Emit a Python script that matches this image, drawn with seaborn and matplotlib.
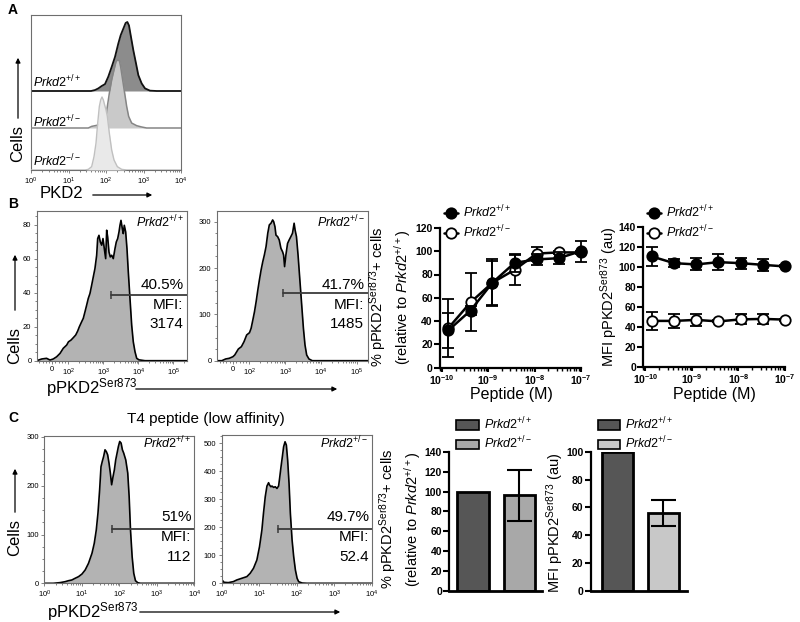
import numpy as np
import pandas as pd
import matplotlib
matplotlib.use("Agg")
import matplotlib.pyplot as plt
import seaborn as sns
from matplotlib.lines import Line2D
from matplotlib.patches import Patch, FancyArrowPatch
from matplotlib.ticker import FixedLocator, LogLocator, MultipleLocator, NullLocator

# ---------------- data ----------------
# Panel A: PKD2 histograms (intensity, % of mode)
a_wt_x = [40, 51, 62.5, 76.6, 94, 115, 142, 174, 213, 246, 290, 334, 371, 410, 465, 536, 631, 728, 893, 1096, 1489, 2244]
a_wt_y = [0, 1.4, 3.8, 7.2, 10, 20.7, 35, 49.5, 68.8, 80.8, 90.4, 98.6, 100, 95, 78, 59, 40, 23, 11, 3.8, 0.5, 0]
a_het_x = [33.8, 41.5, 51, 69.2, 88.5, 100, 108.6, 122.7, 141.6, 163.3, 184.9, 200.4, 227, 246, 278, 315, 356, 402, 483, 658, 893, 1213]
a_het_y = [0, 2.4, 3.4, 4.9, 8.3, 17, 31.7, 51, 70.7, 85.4, 97.6, 100, 99, 90, 70.7, 51, 31.7, 17, 7.3, 3.4, 1.5, 0]
a_ko_x = [27.5, 33.8, 41.5, 47.9, 54.1, 60, 66.4, 72.1, 78.2, 84.9, 92, 100, 108.6, 122.7, 141.6, 163.3, 200.4, 261.8, 355.6]
a_ko_y = [0, 0.9, 4.6, 18.3, 36.7, 64, 87, 96, 100, 96, 89, 82.6, 73.4, 50.5, 27.5, 13.8, 4.6, 0.9, 0]

# Panel B: pPKD2 Ser873 histograms
b1_x = [-96, -65, -35, -14, 6, 27, 48, 68, 89, 100, 118, 137, 161, 183, 204, 238, 265, 296, 331, 368,
        411, 460, 512, 571, 639, 683, 743, 811, 889, 968, 1055, 1156, 1234, 1318, 1436, 1565, 1714, 1905, 2131, 2323,
        2547, 2776, 2961, 3162, 3447, 3679, 3930, 4305, 4690, 5117, 5714, 6394, 7100, 7943, 8890, 10330, 15350, 240000]
b1_y = [0, 1.0, 1.4, 0.4, 1.0, 2.3, 4.3, 7.3, 9.2, 11.1, 12.1, 13.5, 15.1, 17.4, 19.9, 22.9, 24.9, 28.7, 32.7, 36.6,
        39.5, 44.4, 49.3, 54.2, 62, 71.8, 73.7, 69.8, 67.9, 71.8, 65.9, 60, 76.7, 72.7, 63.9, 61, 62, 60, 65.9, 69.8,
        71.8, 75.7, 79.6, 82.5, 77.7, 74.7, 79.6, 75.7, 65.9, 52.2, 36.6, 20.9, 11.1, 5.3, 1.4, 0.5, 0, 0]
b2_x = [-104, -67, -44, -22, 0, 11, 23, 33, 51, 67, 83, 100, 111, 124, 138, 153, 171, 189, 211, 235,
        260, 290, 324, 358, 399, 444, 474, 515, 549, 612, 678, 755, 841, 897, 957, 1040, 1158, 1283, 1430, 1592,
        1766, 1881, 2054, 2275, 2535, 2879, 3211, 3556, 3963, 4592, 5702, 210000]
b2_y = [0, 0, 3.7, 5.2, 8.6, 12.3, 19.4, 25.3, 30.2, 41, 55.5, 60.4, 69.9, 87.8, 105.8, 127, 152.6, 174, 195.8, 213.7,
        228, 246, 275, 293, 296.6, 303.7, 300, 289, 271, 267.6, 260.5, 242.6, 235, 228, 203, 228, 253, 260.5, 267.6, 275,
        296.6, 282, 267.6, 228, 178, 120, 70, 34, 12.3, 3.7, 0, 0]
b_gate_x = [1637, 875]
b_gate_y = [38.5, 145.5]
b_pct = ["40.5%", "41.7%"]
b_mfi = ["3174", "1485"]

# Panel C: T4 peptide histograms
c1_x = [1.0, 1.74, 2.64, 3.59, 4.4, 5.43, 6.65, 8.17, 10.1, 12.3, 15.1, 18.7, 21.5, 24.3, 27.0, 29.9, 32.5, 35.2, 38.2, 41.6,
        45.1, 48.9, 53.3, 57.7, 62.5, 68.2, 73.9, 80.2, 87.3, 94.6, 102.6, 111.7, 121, 131, 148.6, 168, 183, 199, 220, 243,
        270, 311, 368, 10000]
c1_y = [0, 0, 1.4, 3.3, 5.3, 6.8, 10.3, 13.6, 19, 27.3, 41, 61.6, 82, 109, 144, 191.6, 239, 250, 260, 273.7,
        270, 263.5, 246, 226, 202, 219, 232.6, 253, 267, 280.5, 290.8, 287.5, 273.7, 267, 253, 226, 178, 109, 54.6, 20.5,
        5.3, 1.2, 0, 0]
c2_x = [1.0, 1.06, 1.15, 1.5, 2.05, 2.52, 3.44, 4.68, 5.74, 7.04, 8.67, 10.2, 11.8, 13.0, 14.5, 16.1, 17.8, 18.9, 20.6, 21.9,
        24.2, 26.8, 29.8, 32.9, 35.0, 38.2, 41.4, 44.8, 48.9, 53.0, 57.4, 62.5, 67.8, 75.3, 83.2, 92.3, 102.5, 113, 140, 190,
        10000]
c2_y = [0, 9.5, 3.6, 2.4, 6, 11.9, 17.9, 23.8, 35.7, 53.6, 83.3, 131, 190.5, 250, 309.5, 347.6, 359.5, 351, 345, 347.6,
        342.8, 345, 339, 347.6, 375, 416.6, 452, 488, 505.8, 494, 440, 357, 250, 154.7, 95, 47.5, 17.9, 5.7, 1, 0,
        0]
c_gate_x = [64, 31]
c_gate_y = [111, 193]
c_pct = ["51%", "49.7%"]
c_mfi = ["112", "52.4"]

# Dose response (peptide, M)
conc = [1.37e-10, 4.12e-10, 1.23e-9, 3.7e-9, 1.11e-8, 3.33e-8, 1.0e-7]
pct_wt = [32, 49, 73, 90, 93, 94, 100]
pct_wt_err = [15, 4, 19, 8, 5, 5, 9]
pct_het = [34, 56, 73, 84, 98, 99, 99]
pct_het_err = [25, 25, 20, 13, 6, 1, 1]
mfi_wt = [110.7, 104, 102.7, 105, 104, 102.3, 100.7]
mfi_wt_err = [10, 4, 6, 8, 5.5, 6, 1]
mfi_het = [46, 46, 47, 45.5, 47.5, 48, 47.3]
mfi_het_err = [9, 7, 6, 1, 5, 5, 1]

# Bars (T4 peptide)
bar_geno = ["+/+", "+/-"]
bar_pct = [100, 96]
bar_pct_err = [0, 26]
bar_mfi = [100, 56]
bar_mfi_err = [0, 9]

WT = r"$\mathit{Prkd2^{+/+}}$"
HET = r"$\mathit{Prkd2^{+/-}}$"
KO = r"$\mathit{Prkd2^{-/-}}$"
PPKD2 = r"pPKD2$^{\mathrm{Ser873}}$"

# ---------------- style ----------------
sns.set_theme(style="ticks", rc={"axes.edgecolor": "black", "xtick.color": "black", "ytick.color": "black",
                                 "text.color": "black", "axes.labelcolor": "black"})
plt.rcParams["font.family"] = ["Liberation Sans", "DejaVu Sans"]
plt.rcParams["mathtext.fontset"] = "custom"
plt.rcParams["mathtext.rm"] = "Liberation Sans"
plt.rcParams["mathtext.sf"] = "Liberation Sans"
plt.rcParams["mathtext.it"] = "Liberation Sans:italic"
plt.rcParams["mathtext.bf"] = "Liberation Sans:bold"

W, H = 800, 622
fig = plt.figure(figsize=(8, 6.22), dpi=100)
fig.patch.set_facecolor("white")


def ax_px(l, t, r, b):
    return fig.add_axes([l / W, 1 - b / H, (r - l) / W, (b - t) / H])


def ftext(x, y, s, **kw):
    kw.setdefault("va", "center")
    fig.text(x / W, 1 - y / H, s, **kw)


def farrow(x0, y0, x1, y1):
    fig.add_artist(FancyArrowPatch((x0 / W, 1 - y0 / H), (x1 / W, 1 - y1 / H), transform=fig.transFigure,
                                   arrowstyle="-|>", mutation_scale=7, lw=0.9, color="black"))


def hist_style(ax):
    for s in ax.spines.values():
        s.set_color("#6e6e6e")
        s.set_linewidth(0.8)
    ax.tick_params(axis="both", which="both", direction="out", color="#6e6e6e", labelsize=5.5, pad=1.5, width=0.6)
    ax.tick_params(which="major", length=2.5)
    ax.tick_params(which="minor", length=1.5)
    ax.set_xlabel("")
    ax.set_ylabel("")


def draw_hist(ax, xs, ys, gx, gy, xmax, fill="#b3b3b3"):
    ax.fill_between(xs, 0, ys, color=fill, lw=0)
    sns.lineplot(x=xs, y=ys, ax=ax, color="black", lw=1.2, estimator=None, sort=False)
    ax.plot([gx, xmax], [gy, gy], color="#3a3a3a", lw=1.3)
    ax.plot([gx], [gy], marker="|", ms=6, mew=1.1, color="#3a3a3a")


# ---------------- Panel A ----------------
axA = ax_px(31, 15, 181, 170)
axA.set_xscale("log")
layers = [(a_wt_x, a_wt_y, 79, 69, "#8c8c8c", "#111111", 1.3),
          (a_het_x, a_het_y, 42, 68, "#c9c9c9", "#858585", 1.1),
          (a_ko_x, a_ko_y, 0, 73, "#e9e9e9", "#c0c0c0", 1.0)]
z = 1
for xs, hs, off, pk, fc, ec, lw in layers:
    xx = [1.0] + list(xs) + [1e4]
    yy = [off] + [off + h * pk / 100 for h in hs] + [off]
    axA.fill_between(xx, off, yy, color=fc, lw=0, zorder=z)
    sns.lineplot(x=xx, y=yy, ax=axA, color=ec, lw=lw, estimator=None, sort=False, zorder=z + 1)
    z += 2
axA.set_xlim(1, 1e4)
axA.set_ylim(0, 155)
axA.set_xticks([1, 10, 100, 1e3, 1e4], labels=[r"$10^{0}$", r"$10^{1}$", r"$10^{2}$", r"$10^{3}$", r"$10^{4}$"])
axA.xaxis.set_minor_locator(LogLocator(base=10, subs=np.arange(2, 10), numticks=20))
axA.yaxis.set_major_locator(NullLocator())
axA.yaxis.set_minor_locator(NullLocator())
hist_style(axA)
ftext(33, 82, WT, fontsize=9)
ftext(33, 122, HET, fontsize=9)
ftext(33, 161, KO, fontsize=9)
ftext(8, 10, "A", fontsize=10, fontweight="bold", ha="left")
ftext(18, 143, "Cells", fontsize=12, rotation=90, ha="center")
farrow(18, 121, 18, 55)
ftext(61, 194, "PKD2", fontsize=12, ha="center")
farrow(90, 195, 155, 195)

# ---------------- Panel B histograms ----------------
sym_minor = [-80, -60, -40, -20, 20, 40, 60, 80] + [k * 10.0 ** d for d in range(2, 6) for k in range(2, 10)]
b_boxes = [(37, 211, 187, 360.7), (217, 211, 368, 360.7)]
b_ylims = [88, 323]
b_yticks = [[0, 20, 40, 60, 80], [0, 100, 200, 300]]
b_xlims = [(-94, 2.43e5), (-96, 2.05e5)]
b_data = [(b1_x, b1_y), (b2_x, b2_y)]
b_geno = [WT, HET]
for i in range(2):
    l, t, r, b = b_boxes[i]
    ax = ax_px(l, t, r, b)
    ax.set_xscale("symlog", linthresh=100, linscale=0.417)
    draw_hist(ax, b_data[i][0], b_data[i][1], b_gate_x[i], b_gate_y[i], b_xlims[i][1])
    ax.set_xlim(*b_xlims[i])
    ax.set_ylim(0, b_ylims[i])
    ax.set_xticks([0, 1e2, 1e3, 1e4, 1e5], labels=["0", r"$10^{2}$", r"$10^{3}$", r"$10^{4}$", r"$10^{5}$"])
    ax.xaxis.set_minor_locator(FixedLocator(sym_minor))
    ax.set_yticks(b_yticks[i])
    ax.yaxis.set_minor_locator(MultipleLocator(b_yticks[i][1] / 4))
    hist_style(ax)
    ftext(r - 3, 222, b_geno[i], fontsize=9, ha="right")
    ftext(r - 3, 285, b_pct[i], fontsize=11, ha="right")
    ftext(r - 4, 305, "MFI:", fontsize=11, ha="right")
    ftext(r - 4, 324, b_mfi[i], fontsize=11, ha="right")

ftext(8, 204, "B", fontsize=10, fontweight="bold", ha="left")
ftext(15, 346, "Cells", fontsize=12, rotation=90, ha="center")
farrow(15, 313, 15, 252)
ftext(46, 388, PPKD2, fontsize=12, ha="left")
farrow(133, 389, 340, 389)

# ---------------- Panel C histograms ----------------
c_boxes = [(44.3, 436, 194.3, 583.3), (221.7, 435, 371.7, 583.3)]
c_ylims = [302, 530]
c_yticks = [[0, 100, 200, 300], [0, 100, 200, 300, 400, 500]]
c_data = [(c1_x, c1_y), (c2_x, c2_y)]
for i in range(2):
    l, t, r, b = c_boxes[i]
    ax = ax_px(l, t, r, b)
    ax.set_xscale("log")
    draw_hist(ax, c_data[i][0], c_data[i][1], c_gate_x[i], c_gate_y[i], 1e4)
    ax.set_xlim(1, 1e4)
    ax.set_ylim(0, c_ylims[i])
    ax.set_xticks([1, 10, 100, 1e3, 1e4], labels=[r"$10^{0}$", r"$10^{1}$", r"$10^{2}$", r"$10^{3}$", r"$10^{4}$"])
    ax.xaxis.set_minor_locator(LogLocator(base=10, subs=np.arange(2, 10), numticks=20))
    ax.set_yticks(c_yticks[i])
    ax.yaxis.set_minor_locator(MultipleLocator(25))
    hist_style(ax)
    ftext(r - 3, 443, b_geno[i], fontsize=9, ha="right")
    ftext(r - 2, 517, c_pct[i], fontsize=11, ha="right")
    ftext(r - 3, 537, "MFI:", fontsize=11, ha="right")
    ftext(r - 3, 557, c_mfi[i], fontsize=11, ha="right")

ftext(8, 418, "C", fontsize=10, fontweight="bold", ha="left")
ftext(206, 419, "T4 peptide (low affinity)", fontsize=11, ha="center")
ftext(15, 537, "Cells", fontsize=12, rotation=90, ha="center")
farrow(15, 515, 15, 466)
ftext(47, 612, PPKD2, fontsize=12, ha="left")
farrow(137, 612, 343, 612)


# ---------------- Prism style plots ----------------
def prism_style(ax, xlen=4.5):
    sns.despine(ax=ax)
    for s in ["left", "bottom"]:
        ax.spines[s].set_linewidth(1.6)
        ax.spines[s].set_color("black")
    ax.tick_params(which="major", length=4.0, width=1.5, labelsize=7.5, pad=1.2, direction="out")
    ax.tick_params(which="minor", length=2.5, width=1.0, direction="out")
    ax.tick_params(axis="x", which="major", length=xlen, pad=0.8)
    ax.tick_params(axis="x", which="minor", length=min(2.5, xlen))
    for lab in ax.get_yticklabels():
        lab.set_fontweight("bold")
    ax.set_xlabel("")
    ax.set_ylabel("")


def line_panel(box, wt, wt_err, het, het_err, ymax, ystep):
    l, t, r, b = box
    ax = ax_px(l, t, r, b)
    ax.set_xscale("log")
    for vals, err, fc, zz in [(het, het_err, "white", 3), (wt, wt_err, "black", 5)]:
        ax.errorbar(conc, vals, yerr=err, fmt="none", ecolor="black", elinewidth=1.3, capsize=4,
                    capthick=1.3, zorder=zz, clip_on=False)
        sns.lineplot(x=conc, y=vals, ax=ax, color="black", lw=1.8, marker="o", markersize=7.5,
                     markerfacecolor=fc, markeredgecolor="black", markeredgewidth=1.3,
                     estimator=None, sort=False, zorder=zz + 1, clip_on=False)
    ax.set_xlim(9e-11, 1e-7)
    ax.set_ylim(0, ymax)
    ax.set_xticks([1e-10, 1e-9, 1e-8, 1e-7],
                  labels=[r"$\mathbf{10^{-10}}$", r"$\mathbf{10^{-9}}$", r"$\mathbf{10^{-8}}$", r"$\mathbf{10^{-7}}$"])
    ax.xaxis.set_minor_locator(LogLocator(base=10, subs=np.arange(2, 10), numticks=20))
    ax.set_yticks(np.arange(0, ymax + 1, ystep))
    prism_style(ax, xlen=3.0)
    handles = [Line2D([0], [0], color="black", lw=1.8, marker="o", ms=7.5, mfc="black", mec="black", mew=1.3),
               Line2D([0], [0], color="black", lw=1.8, marker="o", ms=7.5, mfc="white", mec="black", mew=1.3)]
    ax.legend(handles, [WT, HET], loc="upper left", bbox_to_anchor=((l + 4) / W, 1 - 204 / H),
              bbox_transform=fig.transFigure, frameon=False, fontsize=9, handlelength=1.1,
              handletextpad=0.4, labelspacing=0.25, borderpad=0, borderaxespad=0)
    return ax


line_panel((440, 228, 580.7, 367.5), pct_wt, pct_wt_err, pct_het, pct_het_err, 120, 20)
ftext(390, 297, "% " + PPKD2 + "+ cells\n(relative to " + WT + ")", fontsize=10.5, rotation=90,
      ha="center", multialignment="center")
ftext(511, 394, "Peptide (M)", fontsize=11.5, ha="center")

line_panel((643.3, 227.3, 785, 366.7), mfi_wt, mfi_wt_err, mfi_het, mfi_het_err, 140, 20)
ftext(609, 297, "MFI " + PPKD2 + " (au)", fontsize=10.5, rotation=90, ha="center")
ftext(714, 394, "Peptide (M)", fontsize=11.5, ha="center")


# ---------------- Bars ----------------
def bar_panel(box, vals, errs, colors, xlim, ymax):
    l, t, r, b = box
    ax = ax_px(l, t, r, b)
    df = pd.DataFrame({"genotype": bar_geno, "value": vals})
    sns.barplot(data=df, x="genotype", y="value", hue="genotype", palette=colors, edgecolor="black",
                linewidth=2, width=0.68, legend=False, errorbar=None, ax=ax)
    ax.errorbar([1], [vals[1]], yerr=[errs[1]], fmt="none", ecolor="black", elinewidth=1.5, capsize=9,
                capthick=1.5, zorder=5)
    ax.set_xlim(*xlim)
    ax.set_ylim(0, ymax)
    ax.set_yticks(np.arange(0, ymax + 1, 20))
    ax.set_xticks([])
    prism_style(ax)
    ax.spines["bottom"].set_linewidth(2.0)
    handles = [Patch(facecolor=c, edgecolor="black", lw=1.2) for c in colors]
    ax.legend(handles, [WT, HET], loc="upper left", bbox_to_anchor=((l + 7) / W, 1 - 416 / H),
              bbox_transform=fig.transFigure, frameon=False, fontsize=9, handlelength=1.8,
              handleheight=0.8, handletextpad=0.4, labelspacing=0.2, borderpad=0, borderaxespad=0)
    return ax


bar_panel((449.3, 451.7, 541.7, 591), bar_pct, bar_pct_err, ["#565656", "#a8a8a8"], (-0.51, 1.48), 140)
ftext(400, 519, "% " + PPKD2 + "+ cells\n(relative to " + WT + ")", fontsize=10.5, rotation=90,
      ha="center", multialignment="center")
bar_panel((590.7, 451.7, 686.7, 591), bar_mfi, bar_mfi_err, ["#565656", "#c8c8c8"], (-0.585, 1.51), 100)
ftext(555, 523, "MFI " + PPKD2 + " (au)", fontsize=10.5, rotation=90, ha="center")

fig.savefig("out.png", dpi=100, facecolor="white")
